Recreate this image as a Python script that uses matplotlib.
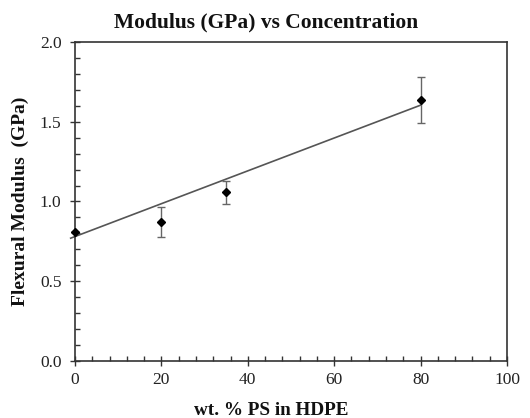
import matplotlib
matplotlib.use("Agg")
import matplotlib.pyplot as plt
from matplotlib.ticker import MultipleLocator

plt.rcParams['font.family'] = ['Liberation Serif', 'DejaVu Serif']

conc = [0, 20, 35, 80]
modulus = [0.807, 0.873, 1.058, 1.636]
modulus_err = [0.0, 0.094, 0.071, 0.145]
fit_x = [-1, 80]
fit_y = [0.77, 1.604]

fig = plt.figure(figsize=(5.30, 4.18), dpi=100)
ax = fig.add_axes([0.1415, 0.1364, 0.8151, 0.7631])

ax.plot(fit_x, fit_y, color='#555555', lw=1.2, clip_on=False, zorder=2)
ax.errorbar(conc, modulus, yerr=modulus_err, fmt='D', color='black', ms=4.5,
            ecolor='#666666', elinewidth=1.0, capsize=3, capthick=1.0, zorder=3, clip_on=False)

ax.set_xlim(0, 100)
ax.set_ylim(0, 2.0)
ax.xaxis.set_major_locator(MultipleLocator(20))
ax.xaxis.set_minor_locator(MultipleLocator(4))
ax.yaxis.set_major_locator(MultipleLocator(0.5))
ax.yaxis.set_minor_locator(MultipleLocator(0.1))
ax.yaxis.set_major_formatter(plt.FormatStrFormatter('%.1f'))
ax.tick_params(which='major', direction='inout', length=7.5, width=1, color='#333333',
               labelsize=12.5, labelcolor='#222222')
ax.tick_params(axis='y', which='major', pad=6)
ax.tick_params(axis='x', which='major', pad=4)
ax.tick_params(which='minor', direction='in', length=3.5, width=1, color='#333333')
ax.tick_params(top=False, right=False, which='both')
for s in ax.spines.values():
    s.set_color('#333333')
    s.set_linewidth(1.2)

fig.text(266 / 530, 1 - 22 / 418, 'Modulus (GPa) vs Concentration', fontsize=15.5,
         fontweight='bold', ha='center', va='center', color='#111111')
fig.text(271 / 530, 1 - 415 / 418, 'wt. % PS in HDPE', fontsize=13.8,
         fontweight='bold', ha='center', va='baseline', color='#111111')
ax.set_ylabel('Flexural Modulus  (GPa)', fontsize=14, fontweight='bold', labelpad=8, color='#111111')

fig.savefig('out.png', dpi=100)
